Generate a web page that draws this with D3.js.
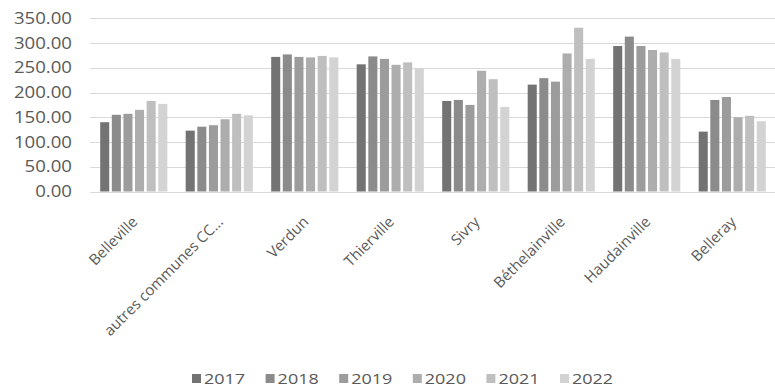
<!DOCTYPE html>
<html><head><meta charset="utf-8">
<script src="https://cdn.jsdelivr.net/npm/d3@7"></script>
<style>body{margin:0;background:#fff}svg{display:block}text{font-family:"Open Sans",sans-serif;fill:#595959}</style>
</head><body><svg id="c" width="775" height="388"></svg>
<script>
const categories = ["Belleville","autres communes CC...","Verdun","Thierville","Sivry","Béthelainville","Haudainville","Belleray"];
const years = ["2017","2018","2019","2020","2021","2022"];
const v2017 = [140,123,272,257,183,216,294,121];
const v2018 = [155,131,277,273,185,229,313,185];
const v2019 = [157,134,272,268,175,222,294,191];
const v2020 = [165,146,271,256,244,279,286,150];
const v2021 = [183,157,274,261,227,331,281,153];
const v2022 = [177,154,271,249,171,268,268,142];
const series = [v2017,v2018,v2019,v2020,v2021,v2022];
const yTicks = [0,50,100,150,200,250,300,350];
const colors = ["#737373","#8b8b8b","#9c9c9c","#adadad","#bfbfbf","#d3d3d3"];

const svg = d3.select("#c");
const SX = 1.2;
const x0 = d3.scaleBand().domain(categories).range([91,775]).paddingInner(0.215).paddingOuter(0.1075);
const x1 = d3.scaleBand().domain(years).range([0,x0.bandwidth()]).paddingInner(0.22);
const y = d3.scaleLinear().domain([0,350]).range([191.5,18.3]);

// gridlines
svg.append("g").selectAll("line").data(yTicks).join("line")
  .attr("x1",90).attr("x2",775).attr("y1",d=>Math.round(y(d))+0.5).attr("y2",d=>Math.round(y(d))+0.5)
  .attr("stroke","#d9d9d9").attr("stroke-width",1);

// y labels
svg.append("g").selectAll("text").data(yTicks).join("text")
  .attr("transform",d=>`translate(72,${y(d)}) scale(${SX},1)`)
  .attr("text-anchor","end").attr("dy","0.36em").style("font-size","15.5px")
  .text(d=>d3.format(".2f")(d));

// bars
const g = svg.append("g");
categories.forEach((c,ci)=>{
  years.forEach((yr,si)=>{
    const v = series[si][ci];
    g.append("rect").attr("x",x0(c)+x1(yr)).attr("width",x1.bandwidth())
      .attr("y",y(v)).attr("height",y(0)-y(v)).attr("fill",colors[si]);
  });
});

// category labels
svg.append("g").selectAll("text").data(categories).join("text")
  .attr("transform",d=>`translate(${x0(d)+x0.bandwidth()/2+1},219) rotate(-45)`)
  .attr("text-anchor","end").attr("dy","0.36em").style("font-size","15px")
  .text(d=>d);

// legend
const lg = svg.append("g");
years.forEach((yr,i)=>{
  const lx = 192 + i*73.6;
  lg.append("rect").attr("x",lx).attr("y",374).attr("width",9).attr("height",9).attr("fill",colors[i]);
  lg.append("text").attr("transform",`translate(${lx+12},384) scale(${SX},1)`).style("font-size","15px").text(yr);
});
</script></body></html>
